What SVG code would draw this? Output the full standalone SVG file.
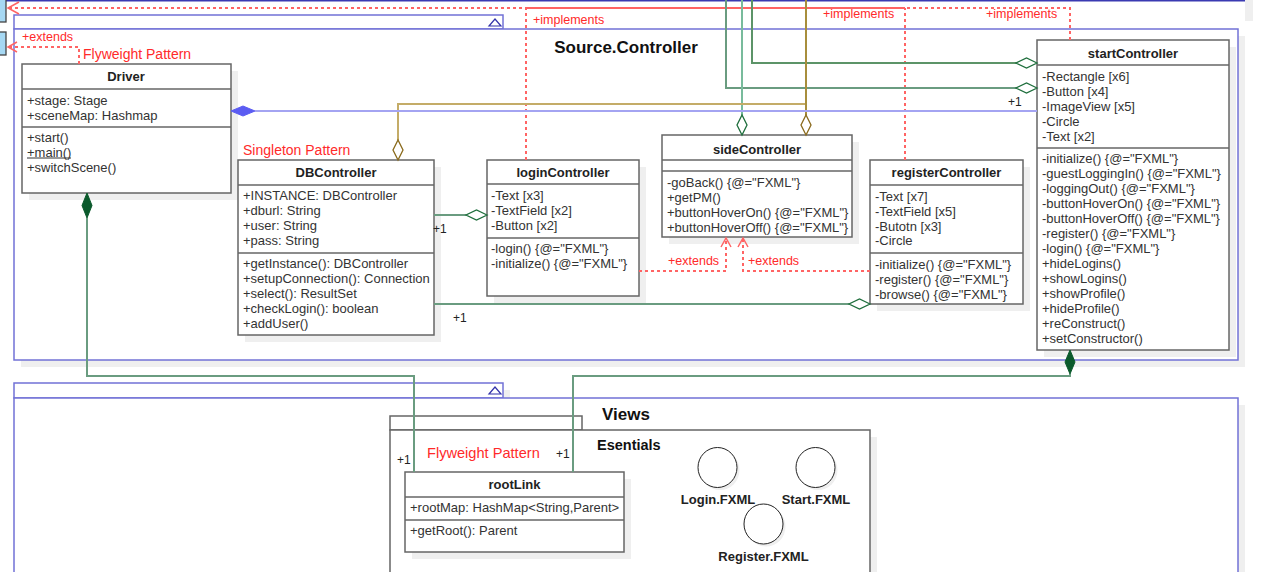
<svg xmlns="http://www.w3.org/2000/svg" width="1263" height="572" viewBox="0 0 1263 572">
<style>
.bg{fill:#fff}
.sh{fill:#efefef}
.box{fill:#fff;stroke:#666;stroke-width:1.5}
.sep{stroke:#666;stroke-width:1.5}
.pkg{fill:#fff;stroke:#7272d6;stroke-width:1.5}
.pkg2{fill:#fff;stroke:#666;stroke-width:1.5}
.tri{fill:none;stroke:#3333aa;stroke-width:1.2}
.t{font-family:"Liberation Sans",Arial,sans-serif;font-size:13px;fill:#333}
.h{font-family:"Liberation Sans",Arial,sans-serif;font-size:13px;font-weight:bold;fill:#222;text-anchor:middle}
.pt{font-family:"Liberation Sans",Arial,sans-serif;font-size:17px;font-weight:bold;fill:#111;text-anchor:middle}
.red{font-family:"Liberation Sans",Arial,sans-serif;fill:#ff2a2a}
.lab{font-family:"Liberation Sans",Arial,sans-serif;font-size:12px;fill:#222}
.dash{fill:none;stroke:#ff6464;stroke-width:2;stroke-dasharray:3 3}
.arr{fill:none;stroke:#ff6464;stroke-width:1.5}
.g1{fill:none;stroke:#6a9c80;stroke-width:2}
.g2{fill:none;stroke:#5c9468;stroke-width:2}
.g3{fill:none;stroke:#78bb9c;stroke-width:2}
.br{fill:none;stroke:#c4ac68;stroke-width:2}
.br2{fill:none;stroke:#a88e3c;stroke-width:2}
.bl{fill:none;stroke:#a4a4f2;stroke-width:2}
.hd{fill:#fff;stroke:#1e6e3c;stroke-width:1.3}
.hdb{fill:#fff;stroke:#8a6a1c;stroke-width:1.3}
.fd{fill:#0b5a2c;stroke:#0b5a2c;stroke-width:1}
</style>

<!-- top strip remnants -->
<rect x="1245" y="0" width="8" height="21" class="sh"/>
<line x1="5" y1="0.5" x2="1245" y2="0.5" stroke="#3a3ab2" stroke-width="2"/>
<rect x="-2" y="-2" width="8" height="24" fill="#a6d8f3" stroke="#444" stroke-width="1.3"/>
<rect x="-2" y="32" width="8" height="23" fill="#a6d8f3" stroke="#444" stroke-width="1.3"/>

<!-- Source.Controller package -->
<g id="pkg-source-controller">
<rect x="21" y="36" width="1224" height="331" class="sh"/>
<rect x="14" y="15" width="489" height="14" class="pkg"/>
<path d="M489,26 L495,19 L501,26 Z" class="tri"/>
<rect x="14" y="29" width="1224" height="331" class="pkg"/>
<text x="626" y="53" class="pt">Source.Controller</text>
</g>

<!-- Views package -->
<g id="pkg-views">
<rect x="503" y="390" width="7" height="8" class="sh"/>
<rect x="21" y="405" width="1224" height="200" class="sh"/>
<rect x="14" y="383" width="489" height="15" class="pkg"/>
<path d="M489,394 L495,387 L501,394 Z" class="tri"/>
<rect x="14" y="398" width="1224" height="200" class="pkg"/>
<text x="626" y="420" class="pt">Views</text>
</g>

<!-- Esentials package -->
<g id="pkg-esentials">
<rect x="397" y="437" width="480" height="200" class="sh"/>
<rect x="390" y="416" width="192" height="14" class="pkg2"/>
<rect x="390" y="430" width="480" height="200" class="pkg2"/>
<text x="597" y="450" font-family="Liberation Sans, Arial, sans-serif" font-size="14.5" font-weight="bold" fill="#111">Esentials</text>
</g>

<!-- Driver -->
<g id="Driver">
<rect x="29" y="71" width="209" height="129" class="sh"/>
<rect x="22" y="64" width="209" height="129" class="box"/>
<line x1="22" y1="89" x2="231" y2="89" class="sep"/>
<line x1="22" y1="127" x2="231" y2="127" class="sep"/>
<text x="126" y="81" class="h">Driver</text>
<text x="27" y="104.5" class="t">+stage: Stage</text>
<text x="27" y="119.5" class="t">+sceneMap: Hashmap</text>
<text x="27" y="141.5" class="t">+start()</text>
<text x="27" y="156.5" class="t">+main()</text>
<line x1="27" y1="158" x2="71" y2="158" stroke="#333" stroke-width="1"/>
<text x="27" y="171.5" class="t">+switchScene()</text>
<text x="83" y="59" class="red" font-size="14">Flyweight Pattern</text>
</g>

<!-- DBController -->
<g id="DBController">
<rect x="245" y="167" width="196" height="175" class="sh"/>
<rect x="238" y="160" width="196" height="175" class="box"/>
<line x1="238" y1="185" x2="434" y2="185" class="sep"/>
<line x1="238" y1="253" x2="434" y2="253" class="sep"/>
<text x="336" y="177" class="h">DBController</text>
<text x="243" y="199.5" class="t">+INSTANCE: DBController</text>
<text x="243" y="214.5" class="t">+dburl: String</text>
<text x="243" y="229.5" class="t">+user: String</text>
<text x="243" y="244.5" class="t">+pass: String</text>
<text x="243" y="267.5" class="t">+getInstance(): DBController</text>
<text x="243" y="282.5" class="t">+setupConnection(): Connection</text>
<text x="243" y="297.5" class="t">+select(): ResultSet</text>
<text x="243" y="312.5" class="t">+checkLogin(): boolean</text>
<text x="243" y="327.5" class="t">+addUser()</text>
<text x="243" y="155" class="red" font-size="14">Singleton Pattern</text>
</g>

<!-- loginController -->
<g id="loginController">
<rect x="494" y="167" width="152" height="136" class="sh"/>
<rect x="487" y="160" width="152" height="136" class="box"/>
<line x1="487" y1="184" x2="639" y2="184" class="sep"/>
<line x1="487" y1="238" x2="639" y2="238" class="sep"/>
<text x="563" y="177" class="h">loginController</text>
<text x="491" y="199.5" class="t">-Text [x3]</text>
<text x="491" y="214.5" class="t">-TextField [x2]</text>
<text x="491" y="229.5" class="t">-Button [x2]</text>
<text x="491" y="252.5" class="t">-login() {@="FXML"}</text>
<text x="491" y="267.5" class="t">-initialize() {@="FXML"}</text>
</g>

<!-- sideController -->
<g id="sideController">
<rect x="669" y="142" width="190" height="102" class="sh"/>
<rect x="662" y="135" width="190" height="102" class="box"/>
<line x1="662" y1="160" x2="852" y2="160" class="sep"/>
<line x1="662" y1="171" x2="852" y2="171" class="sep"/>
<text x="757" y="153.5" class="h">sideController</text>
<text x="667" y="186.5" class="t">-goBack() {@="FXML"}</text>
<text x="667" y="201.5" class="t">+getPM()</text>
<text x="667" y="216.5" class="t">+buttonHoverOn() {@="FXML"}</text>
<text x="667" y="231.5" class="t">+buttonHoverOff() {@="FXML"}</text>
</g>

<!-- registerController -->
<g id="registerController">
<rect x="877" y="167" width="153" height="144" class="sh"/>
<rect x="870" y="160" width="153" height="144" class="box"/>
<line x1="870" y1="185" x2="1023" y2="185" class="sep"/>
<line x1="870" y1="253" x2="1023" y2="253" class="sep"/>
<text x="946.5" y="177" class="h">registerController</text>
<text x="875" y="200.5" class="t">-Text [x7]</text>
<text x="875" y="215.5" class="t">-TextField [x5]</text>
<text x="875" y="230.5" class="t">-Butotn [x3]</text>
<text x="875" y="244.5" class="t">-Circle</text>
<text x="875" y="268.5" class="t">-initialize() {@="FXML"}</text>
<text x="875" y="283.5" class="t">-register() {@="FXML"}</text>
<text x="875" y="298.5" class="t">-browse() {@="FXML"}</text>
</g>

<!-- startController -->
<g id="startController">
<rect x="1044" y="47" width="192" height="310" class="sh"/>
<rect x="1037" y="40" width="192" height="310" class="box"/>
<line x1="1037" y1="65" x2="1229" y2="65" class="sep"/>
<line x1="1037" y1="148" x2="1229" y2="148" class="sep"/>
<text x="1133" y="57.5" class="h">startController</text>
<text x="1042" y="80.5" class="t">-Rectangle [x6]</text>
<text x="1042" y="95.5" class="t">-Button [x4]</text>
<text x="1042" y="110.5" class="t">-ImageView [x5]</text>
<text x="1042" y="125.5" class="t">-Circle</text>
<text x="1042" y="140.5" class="t">-Text [x2]</text>
<text x="1042" y="162.5" class="t">-initialize() {@="FXML"}</text>
<text x="1042" y="177.5" class="t">-guestLoggingIn() {@="FXML"}</text>
<text x="1042" y="192.5" class="t">-loggingOut() {@="FXML"}</text>
<text x="1042" y="207.5" class="t">-buttonHoverOn() {@="FXML"}</text>
<text x="1042" y="222.5" class="t">-buttonHoverOff() {@="FXML"}</text>
<text x="1042" y="237.5" class="t">-register() {@="FXML"}</text>
<text x="1042" y="252.5" class="t">-login() {@="FXML"}</text>
<text x="1042" y="267.5" class="t">+hideLogins()</text>
<text x="1042" y="282.5" class="t">+showLogins()</text>
<text x="1042" y="297.5" class="t">+showProfile()</text>
<text x="1042" y="312.5" class="t">+hideProfile()</text>
<text x="1042" y="327.5" class="t">+reConstruct()</text>
<text x="1042" y="342.5" class="t">+setConstructor()</text>
</g>

<!-- rootLink -->
<g id="rootLink">
<rect x="412" y="479" width="219" height="80" class="sh"/>
<rect x="405" y="472" width="219" height="80" class="box"/>
<line x1="405" y1="497" x2="624" y2="497" class="sep"/>
<line x1="405" y1="520" x2="624" y2="520" class="sep"/>
<text x="514.5" y="489" class="h">rootLink</text>
<text x="410" y="512" class="t" font-size="12">+rootMap: HashMap&lt;String,Parent&gt;</text>
<text x="410" y="535" class="t" font-size="12">+getRoot(): Parent</text>
<text x="427" y="458" class="red" font-size="14.6">Flyweight Pattern</text>
</g>

<!-- FXML views -->
<g id="Login.FXML">
<ellipse cx="720" cy="470" rx="19.5" ry="20" class="sh"/>
<ellipse cx="717.5" cy="467.5" rx="19.5" ry="20" fill="#fff" stroke="#222" stroke-width="1"/>
<text x="718" y="503.5" class="h" font-size="12.5">Login.FXML</text>
</g>
<g id="Start.FXML">
<ellipse cx="818" cy="470" rx="19.5" ry="20" class="sh"/>
<ellipse cx="815.5" cy="467.5" rx="19.5" ry="20" fill="#fff" stroke="#222" stroke-width="1"/>
<text x="816" y="503.5" class="h" font-size="12.5">Start.FXML</text>
</g>
<g id="Register.FXML">
<ellipse cx="766" cy="526.5" rx="19.5" ry="20" class="sh"/>
<ellipse cx="763.5" cy="524" rx="19.5" ry="20" fill="#fff" stroke="#222" stroke-width="1"/>
<text x="763.5" y="560.5" class="h" font-size="12.5">Register.FXML</text>
</g>

<!-- connectors -->
<g id="connectors">
<!-- implements -->
<path d="M526,160 V8 H8" class="dash"/>
<path d="M905,160 V8" class="dash"/>
<path d="M1070,40 V8 H905" class="dash"/>
<line x1="526" y1="8" x2="905" y2="8" stroke="#ff6464" stroke-width="2"/>
<path d="M19,2 L8,8 L19,14" class="arr"/>
<text x="533" y="24" class="red" font-size="12.5">+implements</text>
<text x="823" y="18" class="red" font-size="12.5">+implements</text>
<text x="986" y="18" class="red" font-size="12.5">+implements</text>
<!-- extends Driver -->
<path d="M79,64 V47 H8" class="dash"/>
<path d="M17,42 L8,47 L17,52" class="arr"/>
<text x="22" y="41" class="red" font-size="12.5">+extends</text>
<!-- extends login/register -> side -->
<path d="M639,271 H726 V238" class="dash"/>
<path d="M721,247 L726,238 L731,247" class="arr"/>
<text x="668" y="265" class="red" font-size="12.5">+extends</text>
<path d="M870,271 H743 V238" class="dash"/>
<path d="M738,247 L743,238 L748,247" class="arr"/>
<text x="748" y="265" class="red" font-size="12.5">+extends</text>

<!-- aggregations -->
<path d="M434,215 H466" class="g1"/>
<path d="M487,215 L476.5,210 L466,215 L476.5,220 Z" class="hd"/>
<text x="433" y="233" class="lab">+1</text>
<path d="M434,304 H849" class="g1"/>
<path d="M870,304 L859.5,299 L849,304 L859.5,309 Z" class="hd"/>
<text x="453" y="322" class="lab">+1</text>
<path d="M726,0 V88 H1016" class="g1"/>
<path d="M1037,88 L1026.5,83 L1016,88 L1026.5,93 Z" class="hd"/>
<text x="1008" y="106" class="lab">+1</text>
<path d="M752,0 V63 H1016" class="g2"/>
<path d="M1037,63 L1026.5,58 L1016,63 L1026.5,68 Z" class="hd"/>
<path d="M742,0 V115" class="g3"/>
<path d="M742,135 L737,125 L742,115 L747,125 Z" class="hd"/>
<path d="M806,104 H398 V140" class="br"/>
<path d="M806,0 V115" class="br2"/>
<path d="M806,135 L801,125 L806,115 L811,125 Z" class="hdb"/>
<path d="M398,160 L393,150 L398,140 L403,150 Z" class="hdb"/>
<!-- Driver -> startController -->
<path d="M255,111 H1037" class="bl"/>
<path d="M231,111 L243,106 L255,111 L243,116 Z" fill="#5b5cf2" stroke="#5b5cf2" stroke-width="1"/>
<!-- compositions to rootLink -->
<path d="M87,218 V376 H414 V472" class="g1"/>
<path d="M87,193 L92,205.5 L87,218 L82,205.5 Z" class="fd"/>
<text x="397" y="464" class="lab">+1</text>
<path d="M1070,374 V376 H573 V472" class="g1"/>
<path d="M1070,350 L1075,362 L1070,374 L1065,362 Z" class="fd"/>
<text x="556" y="458" class="lab">+1</text>
</g>
</svg>
